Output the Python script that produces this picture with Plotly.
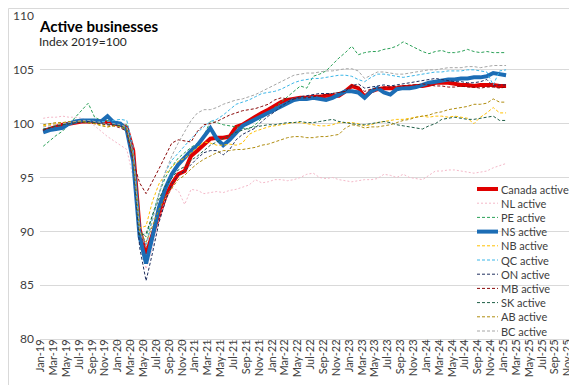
import plotly.graph_objects as go

# ---- data -----------------------------------------------------------------
month_names = ["Jan", "Feb", "Mar", "Apr", "May", "Jun", "Jul", "Aug", "Sep", "Oct", "Nov", "Dec"]
years = ["19", "20", "21", "22", "23", "24", "25"]
months = [f"{m}-{y}" for y in years for m in month_names]  # Jan-19 .. Dec-25 (axis categories)

canada = [99.3, 99.5, 99.7, 99.9, 100.0, 100.1, 100.2, 100.2, 100.2, 100.2, 100.1, 100.0, 99.9, 99.6,
          97.5, 90.2, 87.9, 89.7, 91.5, 93.2, 94.4, 95.3, 95.6, 97.0, 97.5, 98.1, 98.6, 98.7, 98.7, 98.8,
          99.7, 99.9, 100.3, 100.6, 101.0, 101.3, 101.7, 102.0, 102.2, 102.3, 102.4, 102.4, 102.5, 102.5, 102.6, 102.6, 102.6,
          103.0, 103.5, 103.3, 102.5, 103.0, 103.2, 103.3, 103.3, 103.3, 103.4, 103.4, 103.5, 103.5, 103.6, 103.8, 103.8,
          103.8, 103.7, 103.6, 103.6, 103.5, 103.6, 103.6, 103.6, 103.5, 103.5]
nl = [100.5, 100.6, 100.6, 100.7, 100.6, 100.6, 100.5, 100.2, 99.8, 99.3, 98.8, 98.4, 98.0, 97.6,
      95.0, 89.0, 86.5, 88.5, 91.0, 93.0, 94.0, 93.8, 92.5, 93.9, 93.8, 93.5, 93.6, 93.7, 93.6, 93.8,
      93.9, 94.1, 94.3, 94.8, 94.5, 94.6, 94.8, 94.8, 94.7, 94.8, 95.0, 95.3, 95.4, 95.0, 94.9, 95.0, 94.8,
      94.7, 94.6, 94.7, 94.8, 94.8, 94.9, 95.3, 95.2, 95.0, 95.3, 95.0, 94.9, 94.8, 95.2, 95.6, 95.6,
      95.7, 95.7, 95.6, 95.5, 95.4, 95.5, 95.6, 95.9, 96.1, 96.3]
pe = [97.9, 98.4, 98.9, 99.3, 99.9, 100.6, 101.3, 101.9, 100.6, 100.3, 100.3, 100.2, 100.0, 99.9,
      97.0, 90.0, 89.5, 91.5, 93.5, 95.0, 96.0, 96.8, 97.3, 97.8, 98.2, 98.9, 100.2, 100.1, 99.9, 99.8,
      99.7, 99.6, 99.5, 99.9, 100.5, 101.0, 101.5, 102.0, 102.5, 103.0, 103.5, 103.3, 104.4, 104.6, 104.9, 105.5, 106.1,
      106.6, 107.2, 106.4, 106.6, 106.7, 106.7, 106.9, 107.0, 107.2, 107.6, 107.3, 107.0, 106.7, 106.5, 106.7, 106.8,
      106.6, 106.6, 106.7, 106.9, 106.7, 106.6, 106.7, 106.6, 106.6, 106.6]
ns = [99.2, 99.4, 99.5, 99.6, 100.0, 100.2, 100.3, 100.3, 100.3, 100.2, 100.7, 100.1, 100.0, 99.4,
      96.5, 89.5, 87.0, 89.5, 92.2, 94.0, 95.3, 96.2, 96.9, 97.5, 98.0, 98.8, 99.6, 98.6, 98.0, 98.5,
      99.2, 99.8, 100.1, 100.4, 100.8, 101.1, 101.4, 101.7, 102.0, 102.2, 102.3, 102.3, 102.4, 102.3, 102.2, 102.4, 102.7,
      103.0, 103.0, 102.9, 102.4, 103.0, 103.3, 102.9, 102.7, 103.2, 103.3, 103.3, 103.4, 103.6, 103.8, 103.9, 104.0,
      104.1, 104.1, 104.2, 104.2, 104.3, 104.3, 104.4, 104.7, 104.6, 104.5]
nb = [99.8, 99.9, 100.0, 100.1, 100.1, 100.2, 100.2, 100.1, 100.0, 99.9, 99.7, 99.8, 99.8, 99.6,
      97.0, 90.3, 90.5, 92.8, 94.4, 95.3, 96.0, 96.5, 96.8, 97.3, 97.8, 98.3, 98.2, 98.0, 98.0, 98.1,
      98.0, 98.2, 99.0, 99.3, 99.5, 99.7, 99.8, 99.9, 100.0, 100.1, 100.1, 100.0, 99.9, 99.8, 99.8, 99.9, 100.1,
      100.1, 100.1, 100.0, 99.8, 99.9, 100.1, 100.2, 100.3, 100.4, 100.4, 100.5, 100.6, 100.7, 100.6, 100.7, 100.7,
      100.6, 100.7, 100.6, 100.5, 100.0, 100.6, 101.0, 101.5, 101.0, 101.0]
qc = [99.5, 99.6, 99.8, 99.9, 100.1, 100.2, 100.3, 100.3, 100.2, 100.2, 100.2, 100.3, 100.4, 100.3,
      97.8, 90.0, 88.8, 91.3, 93.3, 95.5, 96.6, 97.3, 97.9, 98.6, 99.2, 99.7, 100.2, 100.4, 100.8, 101.3,
      101.8, 102.0, 102.2, 102.5, 102.8, 102.9, 103.0, 103.2, 103.5, 103.8, 104.0, 104.1, 104.2, 104.2, 104.3, 104.4, 104.5,
      104.5, 104.4, 104.1, 103.9, 104.3, 104.6, 104.6, 104.5, 104.4, 104.3, 104.4, 104.5, 104.6, 104.7, 104.8, 104.8,
      104.9, 104.9, 104.9, 105.0, 105.0, 104.9, 104.8, 103.6, 104.9, 105.0]
on = [99.4, 99.6, 99.8, 99.9, 100.1, 100.2, 100.3, 100.2, 100.2, 100.1, 100.0, 99.9, 99.8, 99.5,
      96.8, 88.5, 85.4, 88.0, 90.8, 92.8, 94.4, 95.2, 95.6, 96.2, 96.8, 97.3, 97.5, 97.5, 97.1, 97.6,
      98.5, 99.0, 99.3, 99.6, 100.2, 100.7, 101.1, 101.6, 102.0, 102.3, 102.5, 102.6, 102.7, 102.8, 102.8, 102.8, 102.9,
      103.0, 103.5, 103.7, 103.3, 103.4, 103.5, 103.6, 103.5, 103.6, 103.7, 103.8, 103.9, 104.0, 104.1, 104.2, 104.1,
      104.0, 103.9, 103.9, 103.8, 103.8, 103.9, 104.1, 103.5, 103.6, 103.6]
mb = [99.4, 99.6, 99.8, 99.9, 100.0, 100.1, 100.1, 100.1, 100.0, 100.0, 99.9, 99.8, 99.6, 99.3,
      96.5, 94.5, 93.5, 94.6, 95.8, 97.0, 98.2, 98.5, 98.4, 98.3, 99.3, 99.9, 100.0, 100.2, 100.5, 100.8,
      101.0, 101.2, 101.3, 101.4, 101.6, 101.8, 102.2, 102.4, 102.3, 102.3, 102.4, 102.4, 102.5, 102.6, 102.7, 102.8, 102.9,
      103.0, 103.6, 103.4, 103.0, 103.2, 103.3, 103.4, 103.4, 103.5, 103.5, 103.6, 103.6, 103.7, 103.6, 103.5, 103.5,
      103.4, 103.4, 103.5, 103.4, 103.4, 103.3, 103.4, 103.4, 103.3, 103.4]
sk = [99.5, 99.6, 99.8, 99.9, 100.0, 100.1, 100.2, 100.1, 100.1, 100.0, 99.9, 99.9, 99.8, 99.5,
      96.8, 89.6, 89.8, 91.5, 93.0, 94.2, 95.0, 95.7, 96.0, 96.6, 97.0, 97.5, 98.0, 98.3, 98.6, 98.9,
      99.2, 99.4, 99.6, 99.7, 99.8, 99.9, 99.9, 100.0, 100.1, 100.1, 100.2, 100.1, 100.1, 100.2, 100.3, 100.4, 100.2,
      100.1, 100.0, 99.9, 99.9, 100.0, 100.1, 100.2, 100.1, 99.9, 99.8, 99.7, 99.6, 99.5, 99.8, 100.0, 100.4,
      100.5, 100.6, 100.5, 100.4, 100.4, 100.5, 100.6, 100.7, 100.3, 100.3]
ab = [99.9, 100.0, 100.1, 100.1, 100.2, 100.2, 100.2, 100.1, 100.0, 99.8, 99.7, 99.8, 99.7, 99.5,
      97.0, 90.0, 89.0, 90.5, 92.0, 93.2, 94.0, 94.8, 95.2, 95.8, 96.3, 96.7, 97.0, 97.3, 97.5, 97.5,
      97.6, 97.6, 97.7, 97.8, 98.0, 98.1, 98.3, 98.5, 98.7, 98.8, 98.8, 98.7, 98.7, 98.8, 98.8, 98.9, 99.0,
      99.6, 99.9, 99.8, 99.6, 99.7, 99.7, 99.8, 99.9, 100.1, 100.3, 100.4, 100.6, 100.7, 100.8, 101.0, 101.1,
      101.3, 101.4, 101.5, 101.6, 101.8, 101.8, 101.9, 102.3, 102.0, 102.0]
bc = [99.7, 99.8, 99.9, 100.0, 100.1, 100.2, 100.3, 100.3, 100.2, 100.1, 100.0, 100.0, 99.9, 99.7,
      97.2, 90.0, 88.5, 91.0, 93.5, 95.5, 97.0, 98.2, 99.3, 100.3, 101.0, 101.3, 101.3, 101.5, 101.8, 102.0,
      102.2, 102.3, 102.5, 102.7, 103.0, 103.3, 103.6, 103.9, 104.2, 104.5, 104.6, 104.7, 104.7, 104.8, 104.9, 104.9, 105.0,
      105.1, 105.1, 104.9, 104.2, 104.5, 104.8, 104.8, 104.7, 104.6, 104.6, 104.7, 104.8, 104.9, 105.0, 105.0, 105.1,
      105.2, 105.2, 105.2, 105.3, 105.3, 105.2, 105.3, 105.4, 105.4, 105.4]

series_names = ["Canada active", "NL active", "PE active", "NS active", "NB active", "QC active",
                "ON active", "MB active", "SK active", "AB active", "BC active"]
series_values = [canada, nl, pe, ns, nb, qc, on, mb, sk, ab, bc]

y_ticks = [80, 85, 90, 95, 100, 105, 110]

# ---- styles ----------------------------------------------------------------
colors = ["#E00000", "#F4B8C8", "#2BA158", "#1C6DB5", "#FFC000", "#3BB6E8",
          "#1F2F5F", "#8B0A0A", "#1E5E46", "#B08D10", "#A6A6A6"]
widths = [4, 1, 1, 4, 1, 1, 1, 1, 1, 1, 1]
dashes = ["solid", "2px,2px", "3px,2px", "solid", "3px,2px", "3px,2px",
          "3px,2px", "3px,2px", "3px,2px", "3px,2px", "3px,2px"]

FONT = "Lato, Liberation Sans, Arial, sans-serif"
L, R, T, B = 32, 5, 8, 54
W, H = 577, 385
PW, PH = W - L - R, H - T - B
LABEL_NUDGE = 0.4  # rotated labels sit slightly left of the category centre (visual alignment)


def px_x(px):
    return (px - L) / PW


def px_y(py):
    return (H - B - py) / PH


fig = go.Figure()
for name, vals, c, w, d in zip(series_names, series_values, colors, widths, dashes):
    fig.add_trace(go.Scatter(
        x=list(range(len(vals))), y=vals, mode="lines", name=name,
        line=dict(color=c, width=w, dash=d), showlegend=False,
        hovertemplate="%{text}: %{y}<extra>" + name + "</extra>",
        text=months[:len(vals)],
    ))

# legend drawn as layout items (compact Excel-like spacing)
shapes = []
annotations = []
for k, (name, c, w, d) in enumerate(zip(series_names, colors, widths, dashes)):
    yy = px_y(181 + 14.2 * k)
    shapes.append(dict(type="line", xref="paper", yref="paper",
                       x0=px_x(469), x1=px_x(490), y0=yy, y1=yy,
                       line=dict(color=c, width=w, dash=d)))
    annotations.append(dict(xref="paper", yref="paper", x=px_x(491), y=yy,
                            text=name, showarrow=False, xanchor="left", yanchor="middle",
                            font=dict(family=FONT, size=11, color="#404040")))

# chart border
shapes.append(dict(type="rect", xref="paper", yref="paper",
                   x0=px_x(0.5), x1=px_x(W - 0.5), y0=px_y(H - 0.5), y1=px_y(0.5),
                   line=dict(color="#D9D9D9", width=1), layer="below"))

annotations.append(dict(xref="paper", yref="paper", x=px_x(29), y=px_y(18),
                        text="<b>Active businesses</b>", showarrow=False,
                        xanchor="left", yanchor="middle",
                        font=dict(family=FONT, size=15, color="#000000")))
annotations.append(dict(xref="paper", yref="paper", x=px_x(29), y=px_y(33),
                        text="Index 2019=100", showarrow=False,
                        xanchor="left", yanchor="middle",
                        font=dict(family=FONT, size=12, color="#262626")))

fig.update_layout(
    width=W, height=H,
    margin=dict(l=L, r=R, t=T, b=B, pad=0, autoexpand=False),
    paper_bgcolor="white", plot_bgcolor="white",
    font=dict(family=FONT, size=12, color="#404040"),
    shapes=shapes, annotations=annotations,
    showlegend=False,
)
fig.update_xaxes(
    range=[-0.5, len(months) - 0.5], automargin=False,
    tickmode="array", tickvals=[i - LABEL_NUDGE for i in range(0, len(months), 2)],
    ticktext=months[0::2],
    tickangle=-90, ticks="", showgrid=False, zeroline=False,
    ticklabelstandoff=-5,
    showline=True, linecolor="#D9D9D9", linewidth=1,
    tickfont=dict(family=FONT, size=11, color="#404040"),
    minor=dict(tickmode="array", tickvals=[i - 0.5 for i in range(0, len(months) + 1, 2)],
               ticks="outside", ticklen=4, tickcolor="#BFBFBF", showgrid=False),
)
fig.update_yaxes(
    range=[80, 110], tickmode="array", tickvals=y_ticks, automargin=False,
    showgrid=True, gridcolor="#D9D9D9", gridwidth=1, zeroline=False,
    showline=False, ticks="", ticklabelstandoff=5,
    tickfont=dict(family=FONT, size=12, color="#404040"),
)

fig.write_html("out.html")
